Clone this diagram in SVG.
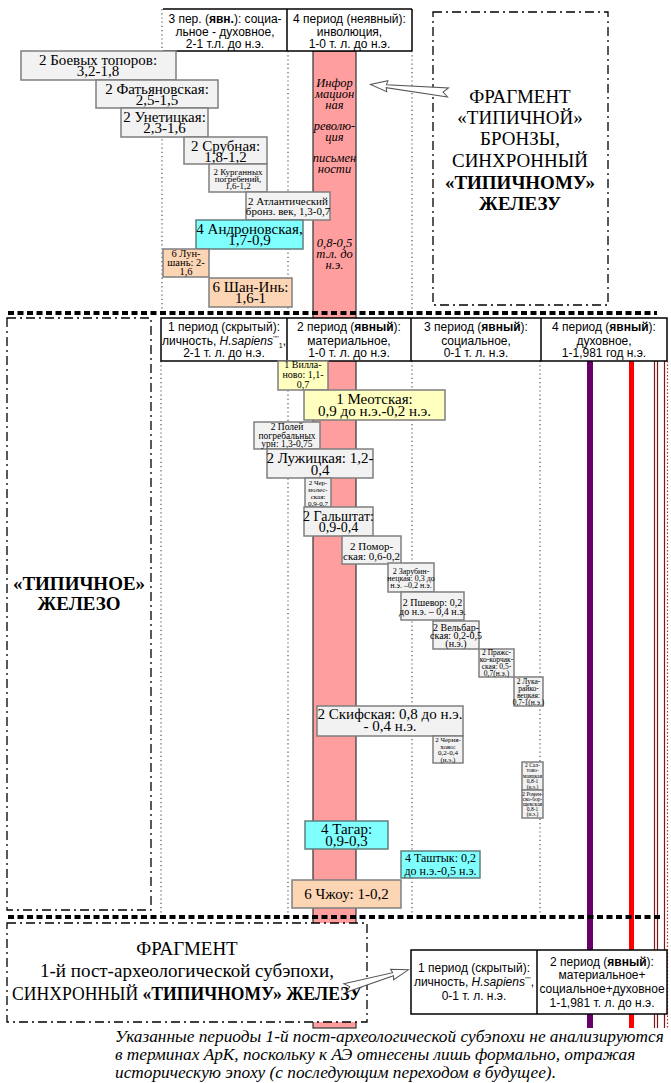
<svg xmlns="http://www.w3.org/2000/svg" width="671" height="1083" viewBox="0 0 671 1083">
<style>
.sans{font-family:"Liberation Sans",Arial,sans-serif;font-size:12px;fill:#000;text-anchor:middle}
.sf{font-family:"Liberation Serif","Times New Roman",serif;fill:#000;text-anchor:middle}
.hdr{fill:#fff;stroke:#000;stroke-width:1.5}
.hl{stroke:#000;stroke-width:1.5}
.g{fill:#f2f2f2;stroke:#7f7f7f;stroke-width:1.5}
.y{fill:#ffffc0;stroke:#7f7f7f;stroke-width:1.5}
.c{fill:#80ffff;stroke:#5f7f7f;stroke-width:1.5}
.p{fill:#fcd5b4;stroke:#7f7f7f;stroke-width:1.5}
.dot{stroke:#555;stroke-width:1.2;stroke-dasharray:1.2 3;fill:none}
.sep{stroke:#000;stroke-width:4;stroke-dasharray:6 3.5}
.frame{fill:#fff;stroke:#000;stroke-width:1.3;stroke-dasharray:9 4 2 4}
.arrow{fill:#fff;stroke:#555;stroke-width:1}
</style>

<g id="grid">
<line class="dot" x1="162" y1="9" x2="162" y2="313"/>
<line class="dot" x1="288" y1="51" x2="288" y2="313"/>
<line class="dot" x1="412" y1="51" x2="412" y2="313"/>
<line class="dot" x1="161" y1="361" x2="161" y2="915"/>
<line class="dot" x1="288" y1="361" x2="288" y2="915"/>
<line class="dot" x1="412" y1="361" x2="412" y2="915"/>
<line class="dot" x1="540" y1="361" x2="540" y2="915"/>
</g>

<g id="pink-bar">
<rect x="313" y="51" width="43" height="977" fill="#ff9e9e" stroke="#333" stroke-width="1.2"/>
<g class="sf" font-style="italic" font-size="12.5" fill="#222">
<text x="334.5" y="87">Инфор</text>
<text x="334.5" y="98">мацион</text>
<text x="334.5" y="109">ная</text>
<text x="334.5" y="130">револю-</text>
<text x="334.5" y="141">ция</text>
<text x="334.5" y="162">письмен</text>
<text x="334.5" y="173">ности</text>
<text x="334.5" y="247">0,8-0,5</text>
<text x="334.5" y="258">т.л. до</text>
<text x="334.5" y="269">н.э.</text>
</g>
</g>

<g id="right-lines">
<rect x="587" y="361" width="6" height="667" fill="#660066"/>
<rect x="629" y="361" width="5" height="667" fill="#ff0000"/>
<line x1="654.5" y1="361" x2="654.5" y2="1028" stroke="#7a1a1a" stroke-width="1.2"/>
<line x1="657.5" y1="361" x2="657.5" y2="1028" stroke="#7a1a1a" stroke-width="1.2"/>
<line x1="664.5" y1="361" x2="664.5" y2="1028" stroke="#7a1a1a" stroke-width="1.2"/>
<line x1="667.5" y1="361" x2="667.5" y2="1028" stroke="#c03030" stroke-width="1.2" stroke-dasharray="1.5 2"/>
</g>

<g id="header-top">
<rect x="163" y="9" width="249" height="42" fill="#fff"/>
<line class="hl" x1="163" y1="9" x2="412" y2="9"/>
<line class="hl" x1="163" y1="51" x2="412" y2="51"/>
<line class="hl" x1="287" y1="9" x2="287" y2="51"/>
<line class="hl" x1="412" y1="9" x2="412" y2="51"/>
<text class="sans" x="225" y="23">3 пер. (<tspan font-weight="bold">явн.</tspan>): социа-</text>
<text class="sans" x="225" y="36">льное - духовное,</text>
<text class="sans" x="225" y="48">2-1 т.л. до н.э.</text>
<text class="sans" x="349.5" y="23">4 период (неявный):</text>
<text class="sans" x="349.5" y="36">инволюция,</text>
<text class="sans" x="349.5" y="48">1-0 т. л. до н.э.</text>
</g>

<g id="n-boevyh"><rect class="g" x="21" y="51" width="155" height="29"/>
<text class="sf" font-size="15" x="98" y="65">2 Боевых топоров:</text><text class="sf" font-size="15" x="98" y="76">3,2-1,8</text></g>
<g id="n-fatyanovo"><rect class="g" x="96" y="80" width="122" height="28"/>
<text class="sf" font-size="15" x="157" y="94">2 Фатьяновская:</text><text class="sf" font-size="15" x="157" y="105">2,5-1,5</text></g>
<g id="n-unetice"><rect class="g" x="121" y="108" width="87" height="29"/>
<text class="sf" font-size="15" x="164.5" y="122">2 Унетицкая:</text><text class="sf" font-size="15" x="164.5" y="133">2,3-1,6</text></g>
<g id="n-srubnaya"><rect class="g" x="184" y="137" width="83" height="27"/>
<text class="sf" font-size="15" x="225.5" y="151">2 Срубная:</text><text class="sf" font-size="15" x="225.5" y="162">1,8-1,2</text></g>
<g id="n-kurgan"><rect class="g" x="209" y="164" width="58" height="28"/>
<text class="sf" font-size="9" x="238" y="175">2 Курганных</text><text class="sf" font-size="9" x="238" y="182">погребений,</text><text class="sf" font-size="9" x="238" y="189">1,6-1,2</text></g>
<g id="n-atlant"><rect class="g" x="246" y="192" width="84" height="28"/>
<text class="sf" font-size="11" x="288" y="205">2 Атлантический</text><text class="sf" font-size="11" x="288" y="215">бронз. век, 1,3-0,7</text></g>
<g id="n-andronovo"><rect class="c" x="196" y="220" width="107" height="29"/>
<text class="sf" font-size="15" x="249.5" y="234">4 Андроновская,</text><text class="sf" font-size="15" x="249.5" y="245">1,7-0,9</text></g>
<g id="n-lunshan"><rect class="p" x="163" y="249" width="46" height="28"/>
<text class="sf" font-size="10.5" x="186" y="257">6 Лун-</text><text class="sf" font-size="10.5" x="186" y="266">шань: 2-</text><text class="sf" font-size="10.5" x="186" y="275">1,6</text></g>
<g id="n-shanin"><rect class="p" x="209" y="278" width="83" height="29"/>
<text class="sf" font-size="15" x="250.5" y="292">6 Шан-Инь:</text><text class="sf" font-size="15" x="250.5" y="303">1,6-1</text></g>

<g id="frag-bronze">
<rect class="frame" x="433" y="12" width="175" height="293"/>
<g class="sf" font-size="19">
<text x="520" y="103">ФРАГМЕНТ</text>
<text x="520" y="124">«ТИПИЧНОЙ»</text>
<text x="520" y="145">БРОНЗЫ,</text>
<text x="520" y="167">СИНХРОННЫЙ</text>
<text x="520" y="189" font-weight="bold">«ТИПИЧНОМУ»</text>
<text x="520" y="210" font-weight="bold">ЖЕЛЕЗУ</text>
</g>
</g>

<g id="header-mid">
<rect class="hdr" x="161" y="318" width="506" height="43"/>
<line class="hl" x1="287" y1="318" x2="287" y2="361"/>
<line class="hl" x1="411" y1="318" x2="411" y2="361"/>
<line class="hl" x1="541" y1="318" x2="541" y2="361"/>
<text class="sans" x="224" y="331">1 период (скрытый):</text>
<text class="sans" x="224" y="345">личность, <tspan font-style="italic">H.sapiens</tspan><tspan font-size="7" dy="-4">’’’’</tspan><tspan font-size="7" dy="7">1</tspan><tspan dy="-3">,</tspan></text>
<text class="sans" x="224" y="357">2-1 т. л. до н.э.</text>
<text class="sans" x="349" y="331">2 период (<tspan font-weight="bold">явный</tspan>):</text>
<text class="sans" x="349" y="345">материальное,</text>
<text class="sans" x="349" y="357">1-0 т. л. до н.э.</text>
<text class="sans" x="476" y="331">3 период (<tspan font-weight="bold">явный</tspan>):</text>
<text class="sans" x="476" y="345">социальное,</text>
<text class="sans" x="476" y="357">0-1 т. л. н.э.</text>
<text class="sans" x="604" y="331">4 период (<tspan font-weight="bold">явный</tspan>):</text>
<text class="sans" x="604" y="345">духовное,</text>
<text class="sans" x="604" y="357">1-1,981 год н.э.</text>
</g>

<g id="n-villanova"><rect class="y" x="278" y="361" width="50" height="29"/>
<text class="sf" font-size="10" x="303" y="368">1 Вилла-</text><text class="sf" font-size="10" x="303" y="378">ново: 1,1-</text><text class="sf" font-size="10" x="303" y="388">0,7</text></g>
<g id="n-meot"><rect class="y" x="304" y="390" width="141" height="30"/>
<text class="sf" font-size="15" x="374.5" y="404">1 Меотская:</text><text class="sf" font-size="15" x="374.5" y="416">0,9 до н.э.-0,2 н.э.</text></g>
<g id="n-urnfield"><rect class="g" x="254" y="422" width="66" height="27"/>
<text class="sf" font-size="9.5" x="287" y="430">2 Полей</text><text class="sf" font-size="9.5" x="287" y="439">погребальных</text><text class="sf" font-size="9.5" x="287" y="447">урн: 1,3-0,75</text></g>
<g id="n-luzhitsa"><rect class="g" x="267" y="449" width="106" height="29"/>
<text class="sf" font-size="15" x="320" y="463">2 Лужицкая: 1,2-</text><text class="sf" font-size="15" x="320" y="475">0,4</text></g>
<g id="n-chernoles"><rect class="g" x="305" y="478" width="26" height="29"/>
<g class="sf" font-size="7"><text x="318" y="485">2 Чер-</text><text x="318" y="492">нолес-</text><text x="318" y="499">ская:</text><text x="318" y="506">0,9-0,7</text></g></g>
<g id="n-hallstatt"><rect class="g" x="304" y="507" width="69" height="29"/>
<text class="sf" font-size="14" x="338.5" y="521">2 Гальштат:</text><text class="sf" font-size="14" x="338.5" y="532">0,9-0,4</text></g>
<g id="n-pomor"><rect class="g" x="342" y="536" width="59" height="28"/>
<text class="sf" font-size="11" x="371.5" y="550">2 Помор-</text><text class="sf" font-size="11" x="371.5" y="560">ская: 0,6-0,2</text></g>
<g id="n-zarub"><rect class="g" x="388" y="563" width="46" height="29"/>
<g class="sf" font-size="8"><text x="411" y="574">2 Зарубин-</text><text x="411" y="581">нецкая: 0,3 до</text><text x="411" y="588">н.э. –0,2 н.э.</text></g></g>
<g id="n-przeworsk"><rect class="g" x="401" y="592" width="63" height="28"/>
<text class="sf" font-size="10" x="432.5" y="606">2 Пшевор: 0,2</text><text class="sf" font-size="10" x="432.5" y="615">до н.э. – 0,4 н.э.</text></g>
<g id="n-wielbark"><rect class="g" x="433" y="621" width="46" height="28"/>
<g class="sf" font-size="10"><text x="456" y="631">2 Вельбар-</text><text x="456" y="639">ская: 0,2-0,5</text><text x="456" y="647">(н.э.)</text></g></g>
<g id="n-prague"><rect class="g" x="479" y="649" width="35" height="28"/>
<g class="sf" font-size="7.5"><text x="496.5" y="655">2 Пражс-</text><text x="496.5" y="662">ко-корчак-</text><text x="496.5" y="669">ская: 0,5-</text><text x="496.5" y="676">0,7(н.э.)</text></g></g>
<g id="n-luka"><rect class="g" x="514" y="677" width="29" height="29"/>
<g class="sf" font-size="7.5"><text x="528.5" y="684">2 Лука-</text><text x="528.5" y="691">райко-</text><text x="528.5" y="698">вецкая:</text><text x="528.5" y="705">0,7-1(н.э.)</text></g></g>
<g id="n-scyth"><rect class="g" x="317" y="706" width="146" height="30"/>
<text class="sf" font-size="15" x="390" y="719">2 Скифская: 0,8 до н.э.</text><text class="sf" font-size="15" x="390" y="731">- 0,4 н.э.</text></g>
<g id="n-chernyakhov"><rect class="g" x="433" y="736" width="30" height="27"/>
<g class="sf" font-size="7"><text x="448" y="742">2 Черня-</text><text x="448" y="749">хово:</text><text x="448" y="755">0,2-0,4</text><text x="448" y="762">(н.э.)</text></g></g>
<g id="n-saltovo"><rect class="g" x="522" y="762" width="21" height="28"/>
<g class="sf" font-size="5.5"><text x="532.5" y="767">2 Сал-</text><text x="532.5" y="772">тово-</text><text x="532.5" y="778">маяцкая</text><text x="532.5" y="783">0,8-1</text><text x="532.5" y="789">(н.э.)</text></g></g>
<g id="n-romny"><rect class="g" x="522" y="790" width="21" height="28"/>
<g class="sf" font-size="5.5"><text x="532.5" y="796">2 Ромен-</text><text x="532.5" y="801">ско-бор-</text><text x="532.5" y="806">щевская</text><text x="532.5" y="811">0,8-1</text><text x="532.5" y="816">(н.э.)</text></g></g>
<g id="n-tagar"><rect class="c" x="305" y="821" width="83" height="28"/>
<text class="sf" font-size="15" x="346.5" y="834">4 Тагар:</text><text class="sf" font-size="15" x="346.5" y="846">0,9-0,3</text></g>
<g id="n-tashtyk"><rect class="c" x="401" y="851" width="79" height="27"/>
<text class="sf" font-size="12" x="440.5" y="862">4 Таштык: 0,2</text><text class="sf" font-size="12" x="440.5" y="875">до н.э.-0,5 н.э.</text></g>
<g id="n-zhou"><rect class="p" x="292" y="880" width="109" height="28"/>
<text class="sf" font-size="15" x="346.5" y="899">6 Чжоу: 1-0,2</text></g>

<g id="frag-iron">
<rect class="frame" x="7" y="318" width="144" height="592" fill="none"/>
<text class="sf" font-size="19" font-weight="bold" x="79" y="590">«ТИПИЧНОЕ»</text>
<text class="sf" font-size="19" font-weight="bold" x="79" y="610">ЖЕЛЕЗО</text>
</g>

<g id="frag-post">
<rect class="frame" x="7" y="923" width="360" height="99"/>
<g class="sf" font-size="19">
<text x="187" y="955">ФРАГМЕНТ</text>
<text x="187" y="977">1-й пост-археологической субэпохи,</text>
<text x="187" y="1000" textLength="350" lengthAdjust="spacingAndGlyphs">СИНХРОННЫЙ <tspan font-weight="bold">«ТИПИЧНОМУ» ЖЕЛЕЗУ</tspan></text>
</g>
</g>

<g id="header-bottom">
<rect class="hdr" x="411" y="950" width="256" height="64"/>
<line class="hl" x1="537" y1="950" x2="537" y2="1014"/>
<text class="sans" x="474" y="972">1 период (скрытый):</text>
<text class="sans" x="474" y="986">личность, <tspan font-style="italic">H.sapiens</tspan><tspan font-size="7" dy="-4">’’’’</tspan><tspan dy="4">,</tspan></text>
<text class="sans" x="474" y="1000">0-1 т. л. н.э.</text>
<text class="sans" x="602" y="966">2 период (<tspan font-weight="bold">явный</tspan>):</text>
<text class="sans" x="602" y="979">материальное+</text>
<text class="sans" x="602" y="993">социальное+духовное</text>
<text class="sans" x="602" y="1007">1-1,981 т. л. до н.э.</text>
</g>

<g id="connectors">
<line class="sep" x1="8" y1="313" x2="657" y2="313"/>
<line class="sep" x1="8" y1="917" x2="660" y2="917"/>
<polygon class="arrow" transform="translate(448,92.5) rotate(185.86)" points="0,-4.5 62,-1.5 61,-5.5 78,0 61,5.5 62,1.5 0,4.5 5,0"/>
<polygon class="arrow" transform="translate(345,988) rotate(-16)" points="0,-4.5 50,-1.5 49,-5.5 66,0 49,5.5 50,1.5 0,4.5 5,0"/>
</g>

<g id="caption" class="sf" font-size="17.3" font-style="italic">
<text x="115" y="1042" text-anchor="start">Указанные периоды 1-й пост-археологической субэпохи не анализируются</text>
<text x="115" y="1060" text-anchor="start">в терминах АрК, поскольку к АЭ отнесены лишь формально, отражая</text>
<text x="115" y="1078" text-anchor="start">историческую эпоху (с последующим переходом в будущее).</text>
</g>
</svg>
